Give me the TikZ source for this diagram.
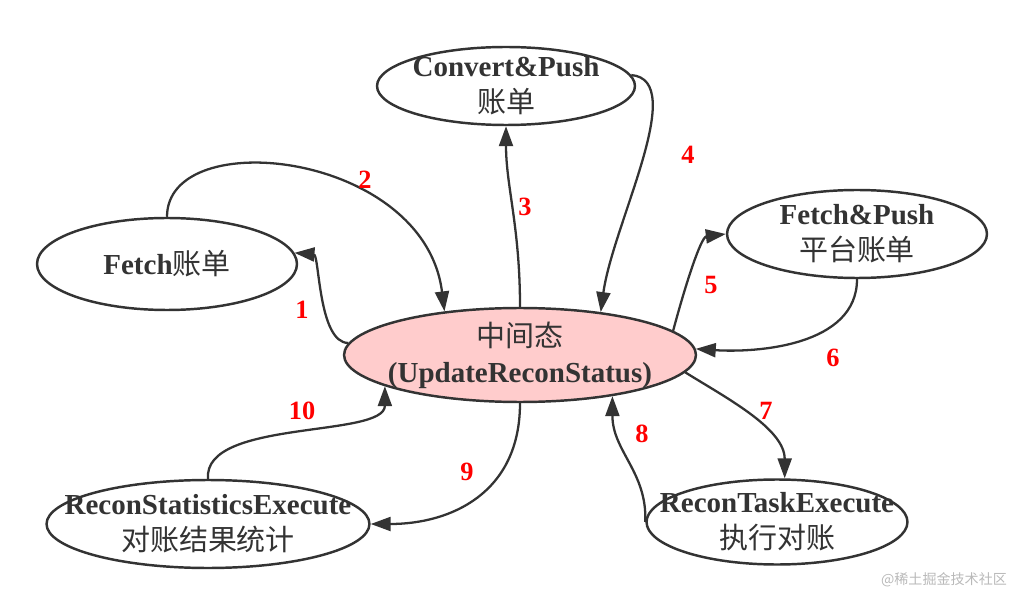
\documentclass[tikz,border=0pt]{standalone}
\usepackage{fontspec}
\setmainfont{Liberation Serif}
\newfontfamily\cjk{Noto Sans CJK SC}
\usetikzlibrary{shapes.geometric,arrows.meta}
\definecolor{ink}{HTML}{333333}
\definecolor{statepink}{HTML}{FFCCCC}
\definecolor{numred}{HTML}{FF0000}
\begin{document}
\begin{tikzpicture}[x=0.02cm,y=-0.02cm,
  phase/.style={ellipse,draw=ink,line width=1.4pt,inner sep=0pt},
  phasetext/.style={align=center,text=ink,inner sep=0pt,font=\fontsize{16.5}{20.5}\selectfont},
  flow/.style={draw=ink,line width=1.3pt,-{Triangle[length=4mm,width=2.8mm]}},
  num/.style={text=numred,font=\fontsize{15}{15}\selectfont\bfseries}]
\useasboundingbox (0,0) rectangle (1024,604);
% states
\node[phase,fill=statepink,minimum width=7.04cm,minimum height=1.88cm] (mid) at (520,355) {};
\node[phasetext] (midtext) at (mid) {{\cjk 中间态}\\\textbf{(UpdateReconStatus)}};
\node[phase,minimum width=5.16cm,minimum height=1.56cm] (convert) at (506,86) {};
\node[phasetext] (converttext) at (convert) {\textbf{Convert\&Push}\\{\cjk 账单}};
\node[phase,minimum width=5.2cm,minimum height=1.84cm] (fetch) at (167,264) {};
\node[phasetext] (fetchtext) at (fetch) {\textbf{Fetch}{\cjk 账单}};
\node[phase,minimum width=5.2cm,minimum height=1.76cm] (fp) at (857,234) {};
\node[phasetext] (fptext) at (fp) {\textbf{Fetch\&Push}\\{\cjk 平台账单}};
\node[phase,minimum width=6.46cm,minimum height=1.76cm] (stat) at (208,524) {};
\node[phasetext] (stattext) at (stat) {\textbf{ReconStatisticsExecute}\\{\cjk 对账结果统计}};
\node[phase,minimum width=5.22cm,minimum height=1.7cm] (task) at (777,522) {};
\node[phasetext] (tasktext) at (task) {\textbf{ReconTaskExecute}\\{\cjk 执行对账}};
% transitions
\draw[flow] (mid.176) .. controls +(-30,0) and +(25,2) .. (fetch.5);
\draw[flow] (fetch.north) .. controls +(0,-93) and +(-20,-160) .. (mid.150);
\draw[flow] (mid.north) .. controls +(0,-80) and +(0,60) .. (convert.south);
\draw[flow] (convert.5) .. controls +(58,5) and +(12,-88) .. (mid.28);
\draw[flow] (mid.9) .. controls +(12,-45) and +(-25,3) .. (fp.west);
\draw[flow] (fp.south) .. controls +(0,67) and +(60,4) .. (mid.2);
\draw[flow] (mid.-6) .. controls +(40,25) and +(0,-50) .. (task.80);
\draw[flow] (task.west) .. controls +(2,-50) and +(0,55) .. (mid.-24);
\draw[flow] (mid.south) .. controls +(0,90) and +(80,0) .. (stat.east);
\draw[flow] (stat.north) .. controls +(-5,-60) and +(0,52) .. (mid.-167);
% step numbers
\node[num] (n1) at (302,310) {1};
\node[num] (n2) at (365,180) {2};
\node[num] (n3) at (525,207) {3};
\node[num] (n4) at (688,155) {4};
\node[num] (n5) at (711,285) {5};
\node[num] (n6) at (833,358) {6};
\node[num] (n7) at (766,411) {7};
\node[num] (n8) at (642,434) {8};
\node[num] (n9) at (467,472) {9};
\node[num] (n10) at (302,411) {10};
\node[text=gray!55,font=\cjk\fontsize{8}{8}\selectfont] (mark) at (944,580) {@稀土掘金技术社区};
\end{tikzpicture}
\end{document}
